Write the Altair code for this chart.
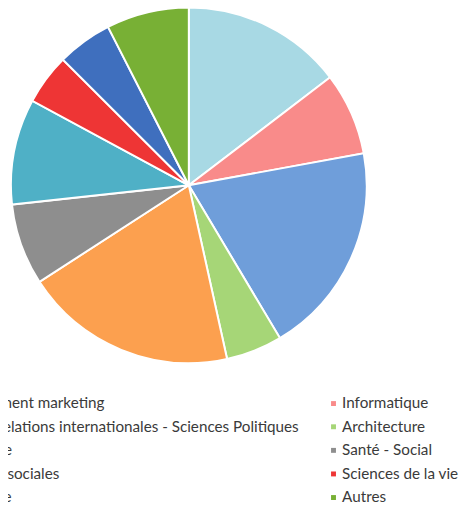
import altair as alt
import pandas as pd

categories = [
    "Management marketing",
    "Informatique",
    "Droit - Relations internationales - Sciences Politiques",
    "Architecture",
    "Ingénierie",
    "Santé - Social",
    "Sciences sociales",
    "Sciences de la vie",
    "Economie",
    "Autres",
]
values = [14.6, 7.5, 19.3, 5.1, 19.3, 7.4, 9.6, 4.6, 5.0, 7.5]
colors = ["#A8D9E4", "#F98B8A", "#6F9EDA", "#A6D677", "#FCA04F",
          "#8E8E8E", "#4FB0C6", "#EE3535", "#3F6FBE", "#78B035"]

# legend grid fills column by column: odd items left, even items right
legend_order = categories[0::2] + categories[1::2]
legend_colors = colors[0::2] + colors[1::2]

df = pd.DataFrame({"cat": categories, "val": values, "ord": list(range(len(categories)))})

chart = alt.Chart(df).mark_arc(radius=181, stroke="white", strokeWidth=2).encode(
    theta=alt.Theta("val:Q", stack=True),
    order=alt.Order("ord:Q"),
    x=alt.value(184),
    y=alt.value(176),
    color=alt.Color(
        "cat:N",
        title=None,
        scale=alt.Scale(domain=legend_order, range=legend_colors),
        legend=alt.Legend(
            orient="none",
            legendX=-79.5,
            legendY=390,
            columns=2,
            columnPadding=27,
            rowPadding=7,
            padding=0,
            symbolType="square",
            symbolSize=25,
            symbolStrokeWidth=0,
            labelOffset=1,
            labelFont="Lato",
            labelFontSize=15.5,
            labelColor="#3a3a3a",
            labelLimit=600,
        ),
    ),
).properties(
    width=461,
    height=501,
    padding=0,
    autosize=alt.AutoSizeParams(type="none"),
).configure_view(stroke=None)

chart.save("out.html", embed_options={"renderer": "svg", "actions": False})
